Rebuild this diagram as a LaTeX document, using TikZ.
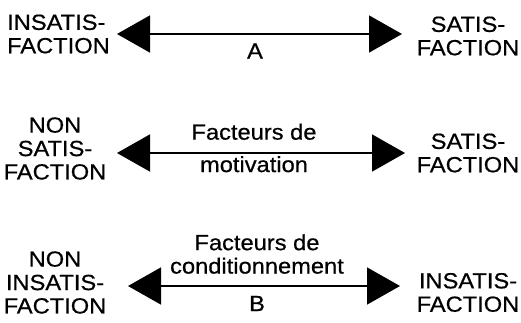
\documentclass[tikz,border=0pt]{standalone}
\usepackage{fontspec}
\setmainfont{Liberation Sans}[FakeStretch=1.08,FakeBold=0.6]
\usetikzlibrary{arrows.meta}

\begin{document}
\begin{tikzpicture}[x=1bp,y=-1bp]
\useasboundingbox (0,0) rectangle (521,322);

        \begin{scope}[every node/.style={inner sep=0pt,align=center,font=\fontsize{22}{23.5}\selectfont}]
          \node[align=left,anchor=west] (l1) at (7,34)    {INSATIS-\\FACTION};
          \node (r1) at (468,36)    {SATIS-\\FACTION};
          \node (l2) at (55,148.5)  {NON\\SATIS-\\FACTION};
          \node (r2) at (468,153)   {SATIS-\\FACTION};
          \node (l3) at (55,282.5)  {NON\\INSATIS-\\FACTION};
          \node (r3) at (468,292.5) {INSATIS-\\FACTION};

          \node (m1) at (255,51)    {A};
          \node (m2) at (254,148)   {Facteurs de\\[9bp]motivation};
          \node (m3) at (257,254)   {Facteurs de\\conditionnement};
          \node (b3) at (257,303.5) {B};
        \end{scope}

        \coordinate (t1) at (117,34);
        \coordinate (u1) at (402,34);
        \coordinate (t2) at (117,153);
        \coordinate (u2) at (405,153);
        \coordinate (t3) at (128,286);
        \coordinate (u3) at (400,286);

        \begin{scope}[line width=1.7bp,{Triangle[length=33bp,width=37bp]}-{Triangle[length=33bp,width=37bp]}]
          \draw (t1) -- (u1);
          \draw (t2) -- (u2);
          \draw (t3) -- (u3);
        \end{scope}

\end{tikzpicture}
\end{document}
